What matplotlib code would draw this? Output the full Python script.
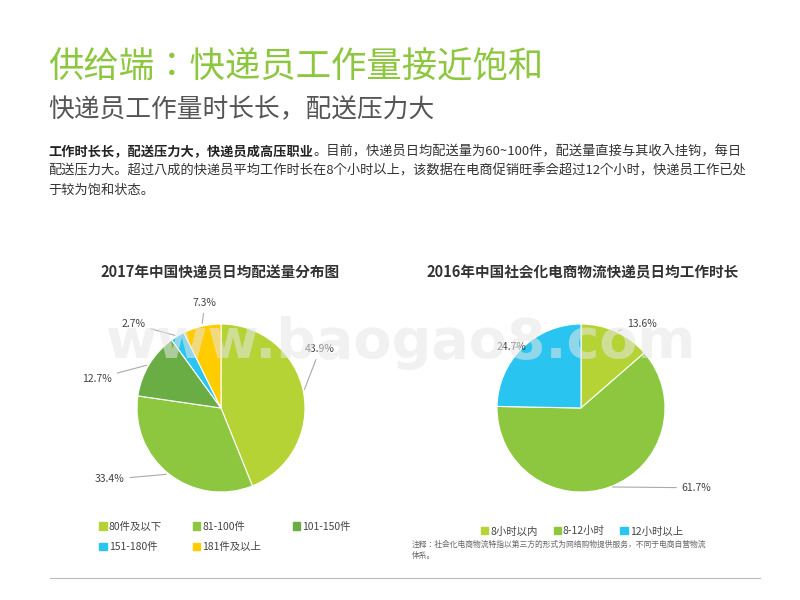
import numpy as np
import matplotlib
matplotlib.use("Agg")
import matplotlib.pyplot as plt
from matplotlib.patches import Patch
from matplotlib import font_manager as fm

names = sorted({f.name for f in fm.fontManager.ttflist})
cjk = None
for pref in ["Noto Sans CJK SC", "Noto Sans CJK JP", "Noto Sans CJK TC", "Noto Sans CJK KR"]:
    if pref in names:
        cjk = pref
        break
if cjk is None:
    for n in names:
        if "CJK" in n and "Sans" in n:
            cjk = n
            break
plt.rcParams["font.family"] = [cjk or "Noto Sans CJK SC", "DejaVu Sans"]

left_title = "2017年中国快递员日均配送量分布图"
left_labels = ["80件及以下", "81-100件", "101-150件", "151-180件", "181件及以上"]
left_values = [43.9, 33.4, 12.7, 2.7, 7.3]
left_colors = ["#b5d334", "#8dc63f", "#6aad44", "#29c5f0", "#ffcc00"]

right_title = "2016年中国社会化电商物流快递员日均工作时长"
right_labels = ["8小时以内", "8-12小时", "12小时以上"]
right_values = [13.6, 61.7, 24.7]
right_colors = ["#b5d334", "#8dc63f", "#29c5f0"]

W, H = 800, 600
fig = plt.figure(figsize=(8, 6), dpi=100)
fig.patch.set_facecolor("white")

def px(x, y):
    return x / W, 1 - y / H

fig.text(*px(48, 68), "供给端：快递员工作量接近饱和", fontsize=25.5, color="#8dc63f", va="center")
fig.text(*px(48, 110), "快递员工作量时长长，配送压力大", fontsize=18.5, color="#555555", va="center")
para = [("工作时长长，配送压力大，快递员成高压职业", "。目前，快递员日均配送量为60~100件，配送量直接与其收入挂钩，每日"),
        ("", "配送压力大。超过八成的快递员平均工作时长在8个小时以上，该数据在电商促销旺季会超过12个小时，快递员工作已处"),
        ("", "于较为饱和状态。")]
ys = [152, 171, 190]
for (b, r), y in zip(para, ys):
    t = fig.text(*px(48, y), b, fontsize=9.5, color="#222222", fontweight="bold", va="center")
    if b:
        fig.canvas.draw()
        bb = t.get_window_extent()
        fig.text(bb.x1 / W, 1 - y / H, r, fontsize=9.5, color="#333333", va="center")
    else:
        fig.text(*px(48, y), r, fontsize=9.5, color="#333333", va="center")

fig.text(*px(220, 272), left_title, fontsize=10.5, fontweight="bold", color="#333333", ha="center", va="center")
fig.text(*px(583, 272), right_title, fontsize=10.5, fontweight="bold", color="#333333", ha="center", va="center")

fig.text(*px(400, 343), "www.baogao8.com", fontsize=40, color="#e6e6e6", alpha=0.55,
         ha="center", va="center", fontweight="bold", zorder=10, family="DejaVu Sans")

def draw_pie(cx, cy, r, values, colors, lab_pos):
    L = 1.6
    size = r * L * 2
    ax = fig.add_axes([(cx - size / 2) / W, (H - cy - size / 2) / H, size / W, size / H])
    wedges, _ = ax.pie(values, colors=colors, startangle=90, counterclock=False,
                       radius=1, wedgeprops=dict(edgecolor="white", linewidth=0.8))
    ax.set_xlim(-L, L); ax.set_ylim(-L, L); ax.set_aspect("equal"); ax.axis("off")
    for w, v, (tx, ty) in zip(wedges, values, lab_pos):
        ang = np.deg2rad((w.theta1 + w.theta2) / 2)
        x0, y0 = np.cos(ang), np.sin(ang)
        ha = "left" if tx > 0 else "right"
        ax.annotate(f"{v}%", xy=(x0, y0), xytext=(tx, ty), fontsize=7.5,
                    color="#444444", ha=ha, va="center",
                    arrowprops=dict(arrowstyle="-", color="#aaaaaa", lw=0.8))
    return ax

draw_pie(221, 408, 84, left_values, left_colors,
         [(1.0, 0.7), (-1.15, -0.85), (-1.3, 0.35), (-0.9, 1.0), (-0.05, 1.25)])
draw_pie(581, 408, 84, right_values, right_colors,
         [(0.55, 1.0), (1.2, -0.95), (-0.65, 0.73)])

lh = [Patch(color=c, label=l) for c, l in zip(left_colors, left_labels)]
order = [0, 3, 1, 4, 2]
fig.legend(handles=[lh[i] for i in order], loc="upper left", bbox_to_anchor=px(90, 512), ncol=3, frameon=False,
           fontsize=7.5, handlelength=0.7, handleheight=0.7, handletextpad=0.2,
           columnspacing=3.0, labelspacing=1.0, labelcolor="#444444")
rh = [Patch(color=c, label=l) for c, l in zip(right_colors, right_labels)]
fig.legend(handles=rh, loc="upper center", bbox_to_anchor=px(582, 517), ncol=3, frameon=False,
           fontsize=7.5, handlelength=0.7, handleheight=0.7, handletextpad=0.2,
           columnspacing=1.5, labelcolor="#444444")
fig.text(*px(412, 545), "注释：社会化电商物流特指以第三方的形式为网络购物提供服务，不同于电商自营物流", fontsize=5.6, color="#666666", va="center")
fig.text(*px(412, 556), "体系。", fontsize=5.6, color="#666666", va="center")

fig.add_artist(plt.Line2D([50 / W, 760 / W], [1 - 578 / H] * 2, color="#bbbbbb", lw=0.8))
fig.savefig("out.png", dpi=100)
